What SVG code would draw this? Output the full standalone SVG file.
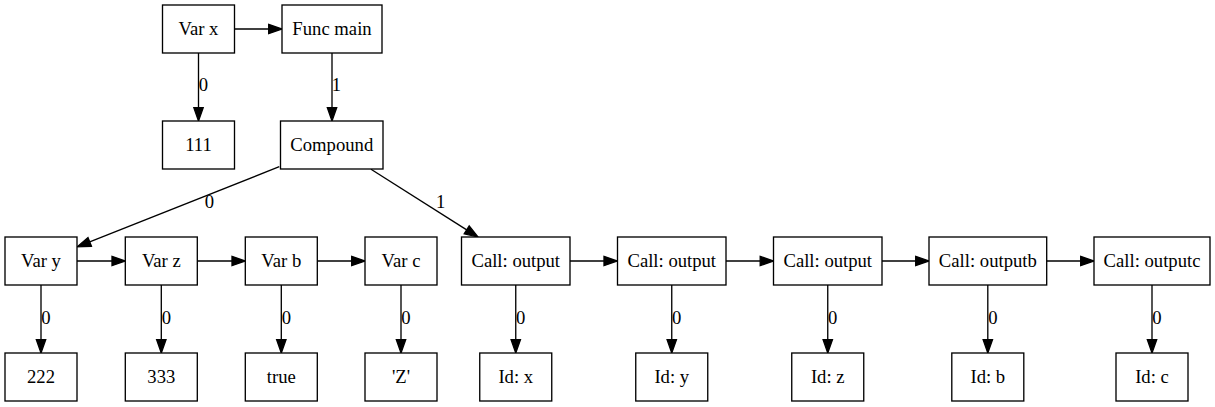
<svg xmlns="http://www.w3.org/2000/svg" width="1215" height="407" viewBox="0 0 1215 407">
<defs>
<marker id="arr" markerUnits="userSpaceOnUse" markerWidth="16" markerHeight="12" refX="0" refY="4.67" orient="auto" overflow="visible">
<path d="M0,0 L13.33,4.67 L0,9.33 Z" fill="#000" stroke="#000" stroke-width="1.33"/>
</marker>
<style>
.n rect{fill:#fff;stroke:#000;stroke-width:1.33}
text{font-family:"Liberation Serif","Times New Roman",serif;font-size:18.67px;fill:#000}
.n text{text-anchor:middle}
.l{text-anchor:middle}
.e path{fill:none;stroke:#000;stroke-width:1.33;marker-end:url(#arr)}
</style>
</defs>
<rect width="1215" height="407" fill="#fff"/>
<g class="e" id="edges">
<path d="M234.5,29 L268.7,29"/>
<path d="M198.5,53 L198.5,107.7"/>
<path d="M332,53 L332,107.7"/>
<path d="M279.3,166.7 L89.7,241.9"/>
<path d="M371,169.3 L466.7,229.9"/>
<path d="M77,261 L112,261"/>
<path d="M197.3,261 L232,261"/>
<path d="M317.3,261 L351.7,261"/>
<path d="M570,261 L604,261"/>
<path d="M726,261 L760.2,261"/>
<path d="M882,261 L915.7,261"/>
<path d="M1046.7,261 L1080.7,261"/>
<path d="M41,285 L41,339.7"/>
<path d="M161.3,285 L161.3,339.7"/>
<path d="M281.3,285 L281.3,339.7"/>
<path d="M401,285 L401,339.7"/>
<path d="M515.75,285 L515.75,339.7"/>
<path d="M671.75,285 L671.75,339.7"/>
<path d="M827.75,285 L827.75,339.7"/>
<path d="M987.8,285 L987.8,339.7"/>
<path d="M1152,285 L1152,339.7"/>
<text class="l" x="203.5" y="91">0</text>
<text class="l" x="336.5" y="91">1</text>
<text class="l" x="209.3" y="207.5">0</text>
<text class="l" x="440.7" y="207.5">1</text>
<text class="l" x="46" y="324">0</text>
<text class="l" x="166.3" y="324">0</text>
<text class="l" x="286.3" y="324">0</text>
<text class="l" x="406" y="324">0</text>
<text class="l" x="520.75" y="324">0</text>
<text class="l" x="676.75" y="324">0</text>
<text class="l" x="832.75" y="324">0</text>
<text class="l" x="992.8" y="324">0</text>
<text class="l" x="1157" y="324">0</text>
</g>
<g class="n" id="varx"><rect x="162.5" y="5" width="72" height="48"/><text x="198.5" y="34.5">Var x</text></g>
<g class="n" id="funcmain"><rect x="282" y="5" width="100" height="48"/><text x="332" y="34.5">Func main</text></g>
<g class="n" id="n111"><rect x="162.5" y="121" width="72" height="48"/><text x="198.5" y="150.5">111</text></g>
<g class="n" id="compound"><rect x="280.5" y="121" width="102.5" height="48"/><text x="331.75" y="150.5">Compound</text></g>
<g class="n" id="vary"><rect x="5" y="237" width="72" height="48"/><text x="41" y="266.5">Var y</text></g>
<g class="n" id="varz"><rect x="125.3" y="237" width="72" height="48"/><text x="161.3" y="266.5">Var z</text></g>
<g class="n" id="varb"><rect x="245.3" y="237" width="72" height="48"/><text x="281.3" y="266.5">Var b</text></g>
<g class="n" id="varc"><rect x="365" y="237" width="72" height="48"/><text x="401" y="266.5">Var c</text></g>
<g class="n" id="call1"><rect x="461.5" y="237" width="108.5" height="48"/><text x="515.75" y="266.5">Call: output</text></g>
<g class="n" id="call2"><rect x="617.5" y="237" width="108.5" height="48"/><text x="671.75" y="266.5">Call: output</text></g>
<g class="n" id="call3"><rect x="773.5" y="237" width="108.5" height="48"/><text x="827.75" y="266.5">Call: output</text></g>
<g class="n" id="callb"><rect x="929" y="237" width="117.7" height="48"/><text x="987.85" y="266.5">Call: outputb</text></g>
<g class="n" id="callc"><rect x="1094" y="237" width="116" height="48"/><text x="1152" y="266.5">Call: outputc</text></g>
<g class="n" id="n222"><rect x="5" y="353" width="72" height="48"/><text x="41" y="382.5">222</text></g>
<g class="n" id="n333"><rect x="125.3" y="353" width="72" height="48"/><text x="161.3" y="382.5">333</text></g>
<g class="n" id="ntrue"><rect x="245.3" y="353" width="72" height="48"/><text x="281.3" y="382.5">true</text></g>
<g class="n" id="nZ"><rect x="365" y="353" width="72" height="48"/><text x="401" y="382.5">'Z'</text></g>
<g class="n" id="idx"><rect x="479.75" y="353" width="72" height="48"/><text x="515.75" y="382.5">Id: x</text></g>
<g class="n" id="idy"><rect x="635.75" y="353" width="72" height="48"/><text x="671.75" y="382.5">Id: y</text></g>
<g class="n" id="idz"><rect x="791.75" y="353" width="72" height="48"/><text x="827.75" y="382.5">Id: z</text></g>
<g class="n" id="idb"><rect x="951.8" y="353" width="72" height="48"/><text x="987.8" y="382.5">Id: b</text></g>
<g class="n" id="idc"><rect x="1116" y="353" width="72" height="48"/><text x="1152" y="382.5">Id: c</text></g>
</svg>
